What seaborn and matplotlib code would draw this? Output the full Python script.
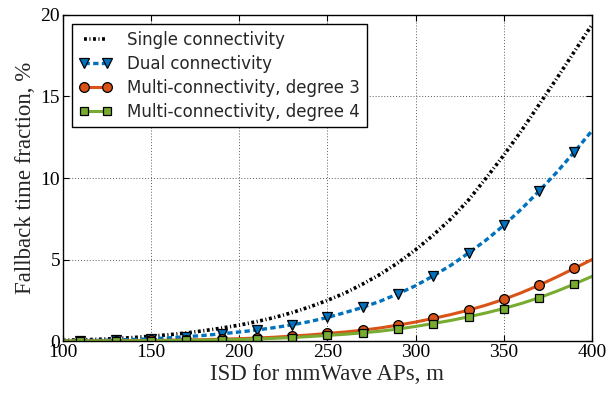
import numpy as np
import matplotlib
matplotlib.use("Agg")
import matplotlib.pyplot as plt
import seaborn as sns

# ISD grid (m); markers are drawn on every other point (110, 130, ..., 390)
isd = list(range(100, 401, 10))

single = [0.05, 0.08, 0.11, 0.16, 0.22, 0.30, 0.39, 0.50, 0.64, 0.80,
          0.98, 1.20, 1.45, 1.75, 2.10, 2.50, 2.95, 3.50, 4.10, 4.80,
          5.60, 6.50, 7.50, 8.65, 10.0, 11.4, 12.9, 14.5, 16.1, 17.75,
          19.4]
dual = [0.02, 0.03, 0.05, 0.07, 0.10, 0.14, 0.20, 0.27, 0.35, 0.45,
        0.56, 0.68, 0.83, 1.00, 1.20, 1.45, 1.75, 2.07, 2.45, 2.90,
        3.40, 4.00, 4.65, 5.40, 6.20, 7.10, 8.10, 9.20, 10.35, 11.6,
        12.9]
multi3 = [0.005, 0.01, 0.015, 0.02, 0.03, 0.04, 0.055, 0.07, 0.09, 0.12,
          0.15, 0.19, 0.24, 0.31, 0.38, 0.47, 0.56, 0.67, 0.81, 0.98,
          1.17, 1.39, 1.63, 1.90, 2.21, 2.56, 2.97, 3.43, 3.93, 4.46,
          5.0]
multi4 = [0.003, 0.005, 0.008, 0.012, 0.018, 0.025, 0.035, 0.045, 0.06, 0.08,
          0.10, 0.13, 0.17, 0.22, 0.28, 0.35, 0.42, 0.51, 0.61, 0.74,
          0.90, 1.08, 1.27, 1.49, 1.73, 2.00, 2.31, 2.66, 3.06, 3.50,
          3.97]

labels = ["Single connectivity", "Dual connectivity",
          "Multi-connectivity, degree 3", "Multi-connectivity, degree 4"]
x_ticks = [100, 150, 200, 250, 300, 350, 400]
y_ticks = [0, 5, 10, 15, 20]

sns.set_style("ticks")
plt.rcParams["font.family"] = ["Liberation Serif", "DejaVu Serif"]
plt.rcParams["xtick.direction"] = "in"
plt.rcParams["ytick.direction"] = "in"

fig = plt.figure(figsize=(6.16, 3.93), dpi=100)
ax = fig.add_axes([0.102, 0.132, 0.859, 0.830])

every = slice(1, None, 2)
sns.lineplot(x=isd, y=single, ax=ax, color="black", lw=2.6,
             linestyle=(0, (0.8, 0.7, 0.3, 0.7)), label=labels[0])
sns.lineplot(x=isd, y=dual, ax=ax, color="#0072BD", lw=2.4,
             linestyle=(0, (1.6, 1.0)), dashes=False,
             marker="v", markersize=7.5, markevery=every,
             markeredgecolor="black", markeredgewidth=0.9, label=labels[1])
sns.lineplot(x=isd, y=multi3, ax=ax, color="#D95319", lw=2.2,
             marker="o", markersize=7, markevery=every,
             markeredgecolor="black", markeredgewidth=0.9, label=labels[2])
sns.lineplot(x=isd, y=multi4, ax=ax, color="#77AC30", lw=2.2,
             marker="s", markersize=6, markevery=every,
             markeredgecolor="black", markeredgewidth=0.9, label=labels[3])

ax.set_xlim(100, 400)
ax.set_ylim(0, 20)
ax.set_xticks(x_ticks)
ax.set_yticks(y_ticks)
ax.tick_params(labelsize=14, top=True, right=True, length=4, width=0.8,
               colors="black", pad=2)
ax.grid(True, linestyle=(0, (1, 2)), color="0.35", linewidth=0.7)
for s in ax.spines.values():
    s.set_color("black")
    s.set_linewidth(1.0)

ax.set_xlabel("ISD for mmWave APs, m", fontsize=16.5, labelpad=2)
ax.set_ylabel("Fallback time fraction, %", fontsize=16.5, labelpad=3)

leg = ax.legend(loc="upper left", prop={"family": "DejaVu Sans", "size": 12},
                fancybox=False, framealpha=1, edgecolor="black",
                numpoints=2, handlelength=2.0, handletextpad=0.9,
                borderpad=0.4, labelspacing=0.36,
                bbox_to_anchor=(0.0, 1.0), borderaxespad=0.55)
leg.get_frame().set_linewidth(1.0)
for h in leg.get_lines():
    h.set_markevery(None)

fig.savefig("out.png", dpi=100)
